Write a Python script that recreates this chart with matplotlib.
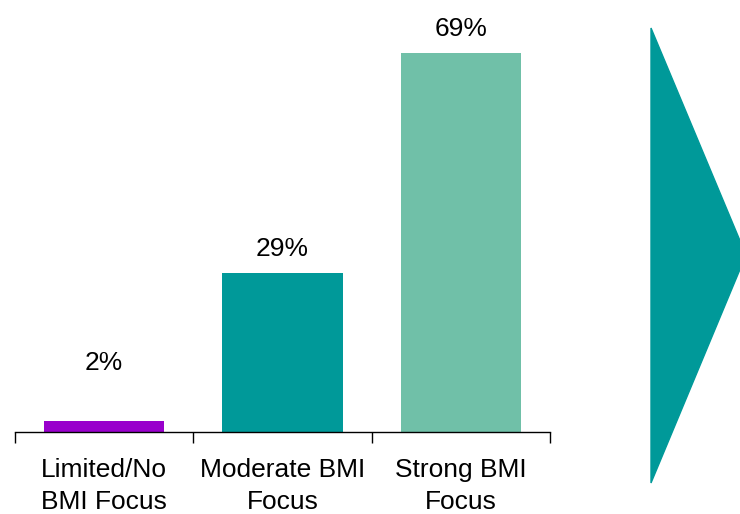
import matplotlib.pyplot as plt
from matplotlib.patches import Polygon

plt.rcParams['font.family'] = ['Liberation Sans', 'DejaVu Sans']

categories = ['Limited/No\nBMI Focus', 'Moderate BMI\nFocus', 'Strong BMI\nFocus']
values = [2, 29, 69]
colors = ['#9900CC', '#009999', '#70C0A8']
# vertical gap (px) between each bar top and its label
label_gaps = [58, 24, 24]

fig = plt.figure(figsize=(7.4, 5.14), dpi=100)
ax = fig.add_axes([15 / 740, 82 / 514, 535 / 740, 412 / 514])

x = range(len(values))
ax.bar(x, values, width=0.675, color=colors)
for i, v in enumerate(values):
    ax.annotate(f'{v}%', (i, v), xytext=(0, label_gaps[i] * 0.72),
                textcoords='offset points', ha='center', va='center', fontsize=19)

ax.set_xlim(-0.5, 2.5)
ax.set_ylim(0, 412 / 5.5)
ax.set_xticks([-0.5, 0.5, 1.5, 2.5])
ax.set_xticklabels([])
ax.set_xticks(list(x), categories, minor=True)
ax.tick_params(axis='x', which='major', length=8, width=1, direction='out')
ax.tick_params(axis='x', which='minor', length=0, pad=19, labelsize=19)
for lbl in ax.get_xticklabels(minor=True):
    lbl.set_linespacing(1.4)
ax.set_yticks([])
for s in ['top', 'right', 'left']:
    ax.spines[s].set_visible(False)
ax.spines['bottom'].set_linewidth(1)

# arrow shape on the right
W, H = 740, 514
pts = [(651, 28), (746, 255), (651, 483)]
fig.patches.append(Polygon([(px / W, 1 - py / H) for px, py in pts], closed=True,
                           transform=fig.transFigure, color='#009999'))

fig.savefig('out.png', dpi=100)
